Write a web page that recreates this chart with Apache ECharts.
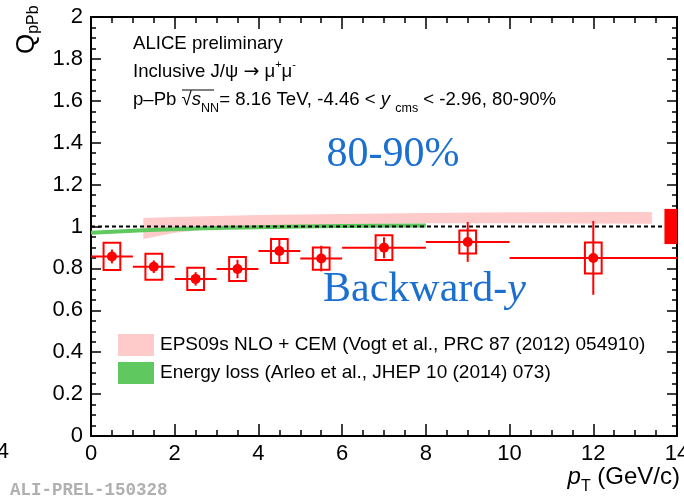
<!DOCTYPE html>
<html>
<head>
<meta charset="utf-8">
<script src="https://cdn.jsdelivr.net/npm/echarts@6/dist/echarts.min.js"></script>
<style>
html, body { margin: 0; padding: 0; background: #fff; }
#main { width: 684px; height: 498px; }
</style>
</head>
<body>
<div id="main"></div>
<script>
// inclusive J/psi QpPb vs pT, backward-y, 80-90%
var ptVals  = [0.5, 1.5, 2.5, 3.5, 4.5, 5.5, 7, 9, 12];
var ptLow   = [0, 1, 2, 3, 4, 5, 6, 8, 10];
var ptHigh  = [1, 2, 3, 4, 5, 6, 8, 10, 14];
var qVals   = [0.857, 0.808, 0.75, 0.797, 0.883, 0.847, 0.899, 0.926, 0.85];
var statErr = [0.033, 0.03, 0.032, 0.044, 0.054, 0.061, 0.05, 0.095, 0.176];
var systErr = [0.065, 0.062, 0.053, 0.057, 0.057, 0.053, 0.059, 0.055, 0.074];
var globalErr = 0.084;

// EPS09s NLO + CEM band
var epsPt   = [1.25, 2, 3, 4, 6, 8, 10, 13.4];
var epsLow  = [0.94, 0.97, 0.99, 1.0, 1.01, 1.015, 1.015, 1.013];
var epsHigh = [1.04, 1.045, 1.05, 1.055, 1.06, 1.065, 1.068, 1.069];

// energy loss
var elossPt = [0, 1.25, 2.5, 4, 6, 8];
var elossQ  = [0.97, 0.982, 0.99, 0.997, 1.002, 1.005];

var refLine = [[0, 1], [14, 1]];

var epsName = 'EPS09s NLO + CEM (Vogt et al., PRC 87 (2012) 054910)';
var elossName = 'Energy loss (Arleo et al., JHEP 10 (2014) 073)';

var FONT = '"Liberation Sans", Helvetica, Arial, sans-serif';
var SERIF = '"Liberation Serif", "Times New Roman", serif';
var RED = '#ff0000';
var BLUE = '#1a6fd0';
var PINK = '#ffcaca';
var GREEN = '#5fc95f';
var boxHalf = 0.2;
var globalBoxWidth = 0.3;

var dom = document.getElementById('main');
var myChart = echarts.init(dom);

var pointData = ptVals.map(function (x, i) {
    return [x, qVals[i], ptLow[i], ptHigh[i], statErr[i], systErr[i]];
});

function renderPoint(params, api) {
    var x = api.value(0), y = api.value(1);
    var c = api.coord([x, y]);
    var l = api.coord([api.value(2), y]);
    var r = api.coord([api.value(3), y]);
    var st = api.coord([x, y + api.value(4)]);
    var sb = api.coord([x, y - api.value(4)]);
    var b1 = api.coord([x - boxHalf, y + api.value(5)]);
    var b2 = api.coord([x + boxHalf, y - api.value(5)]);
    var ls = { stroke: RED, lineWidth: 2, fill: null };
    return {
        type: 'group',
        children: [
            { type: 'rect', shape: { x: b1[0], y: b1[1], width: b2[0] - b1[0], height: b2[1] - b1[1] },
              style: { fill: null, stroke: RED, lineWidth: 2 } },
            { type: 'line', shape: { x1: l[0], y1: c[1], x2: r[0], y2: c[1] }, style: ls },
            { type: 'line', shape: { x1: c[0], y1: st[1], x2: c[0], y2: sb[1] }, style: ls },
            { type: 'circle', shape: { cx: c[0], cy: c[1], r: 5 }, style: { fill: RED } }
        ]
    };
}

function renderBand(params, api) {
    var pts = [];
    for (var i = 0; i < epsPt.length; i++) pts.push(api.coord([epsPt[i], epsHigh[i]]));
    for (var j = epsPt.length - 1; j >= 0; j--) pts.push(api.coord([epsPt[j], epsLow[j]]));
    return { type: 'polygon', shape: { points: pts }, style: { fill: PINK } };
}

function renderGlobal(params, api) {
    var xr = api.value(0), y = api.value(1), e = api.value(2);
    var p1 = api.coord([xr - globalBoxWidth, y + e]);
    var p2 = api.coord([xr, y - e]);
    return { type: 'rect', shape: { x: p1[0], y: p1[1], width: p2[0] - p1[0], height: p2[1] - p1[1] },
             style: { fill: RED } };
}

var axisBase = {
    type: 'value',
    axisLine: { show: true, onZero: false, lineStyle: { color: '#000', width: 2 } },
    splitLine: { show: false },
    minorSplitLine: { show: false }
};

option = {
    animation: false,
    backgroundColor: '#fff',
    textStyle: { fontFamily: FONT },
    grid: { left: 91, right: 7, top: 17, bottom: 62, containLabel: false, outerBoundsMode: 'none' },
    xAxis: [
        Object.assign({}, axisBase, {
            position: 'bottom', min: 0, max: 14, interval: 2,
            axisTick: { show: true, inside: true, length: 12, lineStyle: { color: '#000', width: 1.5 } },
            minorTick: { show: true, splitNumber: 4, length: 6, lineStyle: { color: '#000', width: 1.5 } },
            axisLabel: { show: true, fontSize: 22, color: '#000', margin: 7, fontFamily: FONT, hideOverlap: false }
        }),
        Object.assign({}, axisBase, {
            position: 'top', min: 0, max: 14, interval: 2,
            axisTick: { show: true, inside: true, length: 12, lineStyle: { color: '#000', width: 1.5 } },
            minorTick: { show: true, splitNumber: 4, length: 6, lineStyle: { color: '#000', width: 1.5 } },
            axisLabel: { show: false }
        })
    ],
    yAxis: [
        Object.assign({}, axisBase, {
            position: 'left', min: 0, max: 2, interval: 0.2,
            axisTick: { show: true, inside: true, length: 10, lineStyle: { color: '#000', width: 1.5 } },
            minorTick: { show: true, splitNumber: 4, length: 5, lineStyle: { color: '#000', width: 1.5 } },
            axisLabel: { show: true, fontSize: 22, color: '#000', margin: 8, fontFamily: FONT }
        }),
        Object.assign({}, axisBase, {
            position: 'right', min: 0, max: 2, interval: 0.2,
            axisTick: { show: true, inside: true, length: 10, lineStyle: { color: '#000', width: 1.5 } },
            minorTick: { show: true, splitNumber: 4, length: 5, lineStyle: { color: '#000', width: 1.5 } },
            axisLabel: { show: false }
        })
    ],
    legend: {
        orient: 'vertical',
        left: 118,
        top: 334,
        padding: 0,
        itemWidth: 36,
        itemHeight: 22,
        itemGap: 6,
        selectedMode: false,
        itemStyle: { borderWidth: 0 },
        textStyle: { fontSize: 19, color: '#000', fontFamily: FONT, padding: [0, 0, 0, 1] },
        data: [
            { name: epsName, icon: 'rect', itemStyle: { color: PINK, borderWidth: 0 } },
            { name: elossName, icon: 'rect', itemStyle: { color: GREEN, borderWidth: 0 } }
        ]
    },
    graphic: [
        { type: 'text', x: 133, y: 44, style: { text: 'ALICE preliminary', fontSize: 18.6, fontFamily: FONT, fill: '#000', align: 'left', verticalAlign: 'middle' } },
        { type: 'text', x: 133, y: 72, style: {
            text: 'Inclusive J/ψ {ar|→} μ{u|+}μ{u|-}', fontSize: 18.6, fontFamily: FONT, fill: '#000',
            align: 'left', verticalAlign: 'middle', lineHeight: 26,
            rich: {
                ar: { fontSize: 19, fontFamily: '"DejaVu Sans", sans-serif', lineHeight: 26 },
                u: { fontSize: 11, fontFamily: FONT, lineHeight: 20, verticalAlign: 'top' }
            }
        } },
        { type: 'text', x: 133, y: 100, style: {
            text: 'p–Pb √{it|s}{nn|NN}= 8.16 TeV, -4.46 < {it|y} {cms|cms} < -2.96, 80-90%',
            fontSize: 18.6, fontFamily: FONT, fill: '#000', align: 'left', verticalAlign: 'middle', lineHeight: 30,
            rich: {
                it: { fontSize: 18.6, fontStyle: 'italic', fontFamily: FONT, lineHeight: 30 },
                nn: { fontSize: 12.5, fontFamily: FONT, lineHeight: 25, verticalAlign: 'bottom' },
                cms: { fontSize: 12.5, fontFamily: FONT, lineHeight: 4, verticalAlign: 'bottom' }
            }
        } },
        { type: 'line', shape: { x1: 182, y1: 90, x2: 214, y2: 90 }, style: { stroke: '#000', lineWidth: 1 } },
        { type: 'text', x: 393, y: 155, style: { text: '80-90%', fontSize: 42, fontFamily: SERIF, fill: BLUE, align: 'center', verticalAlign: 'middle' } },
        { type: 'text', x: 323, y: 290, style: {
            text: 'Backward-{it|y}', fontSize: 42, fontFamily: SERIF, fill: BLUE, align: 'left', verticalAlign: 'middle',
            rich: { it: { fontSize: 42, fontFamily: SERIF, fontStyle: 'italic', fill: BLUE } }
        } },
        { type: 'text', x: 27, y: 54, rotation: Math.PI / 2, style: {
            text: '{q|Q}{s|pPb}', fill: '#000', align: 'left', verticalAlign: 'middle', lineHeight: 30,
            rich: {
                q: { fontSize: 26, fontFamily: FONT, lineHeight: 30 },
                s: { fontSize: 16, fontFamily: FONT, lineHeight: 6, verticalAlign: 'bottom' }
            }
        } },
        { type: 'text', x: 680, y: 477, style: {
            text: '{p|p}{t|T} (GeV/c)', fontSize: 24, fontFamily: FONT, fill: '#000', align: 'right', verticalAlign: 'middle', lineHeight: 36,
            rich: {
                p: { fontSize: 24, fontFamily: FONT, fontStyle: 'italic', lineHeight: 36 },
                t: { fontSize: 16, fontFamily: FONT, lineHeight: 6, verticalAlign: 'bottom' }
            }
        } },
        { type: 'text', x: 10, y: 491, style: { text: 'ALI-PREL-150328', fontSize: 17.5, fontWeight: 'bold', fontFamily: '"Liberation Mono", "DejaVu Sans Mono", monospace', fill: '#b0b0b0', align: 'left', verticalAlign: 'middle' } },
        { type: 'text', x: 9, y: 452, style: { text: '4', fontSize: 22, fontFamily: FONT, fill: '#000', align: 'right', verticalAlign: 'middle' } }
    ],
    series: [
        {
            name: epsName,
            type: 'custom',
            z: 1,
            clip: true,
            itemStyle: { color: PINK },
            renderItem: renderBand,
            data: [[epsPt[0], epsLow[0]]]
        },
        {
            name: elossName,
            type: 'line',
            z: 2,
            symbol: 'none',
            smooth: true,
            itemStyle: { color: GREEN },
            lineStyle: { color: GREEN, width: 4 },
            data: elossPt.map(function (x, i) { return [x, elossQ[i]]; })
        },
        {
            name: 'ref',
            type: 'line',
            z: 3,
            symbol: 'none',
            silent: true,
            lineStyle: { color: '#000', width: 2, type: [4, 3] },
            data: refLine
        },
        {
            name: 'global',
            type: 'custom',
            z: 4,
            clip: false,
            renderItem: renderGlobal,
            data: [[14, 1, globalErr]]
        },
        {
            name: 'data',
            type: 'custom',
            z: 5,
            clip: true,
            renderItem: renderPoint,
            encode: { x: 0, y: 1 },
            data: pointData
        }
    ]
};

if (option && typeof option === 'object') {
    myChart.setOption(option, true);
}
</script>
</body>
</html>
